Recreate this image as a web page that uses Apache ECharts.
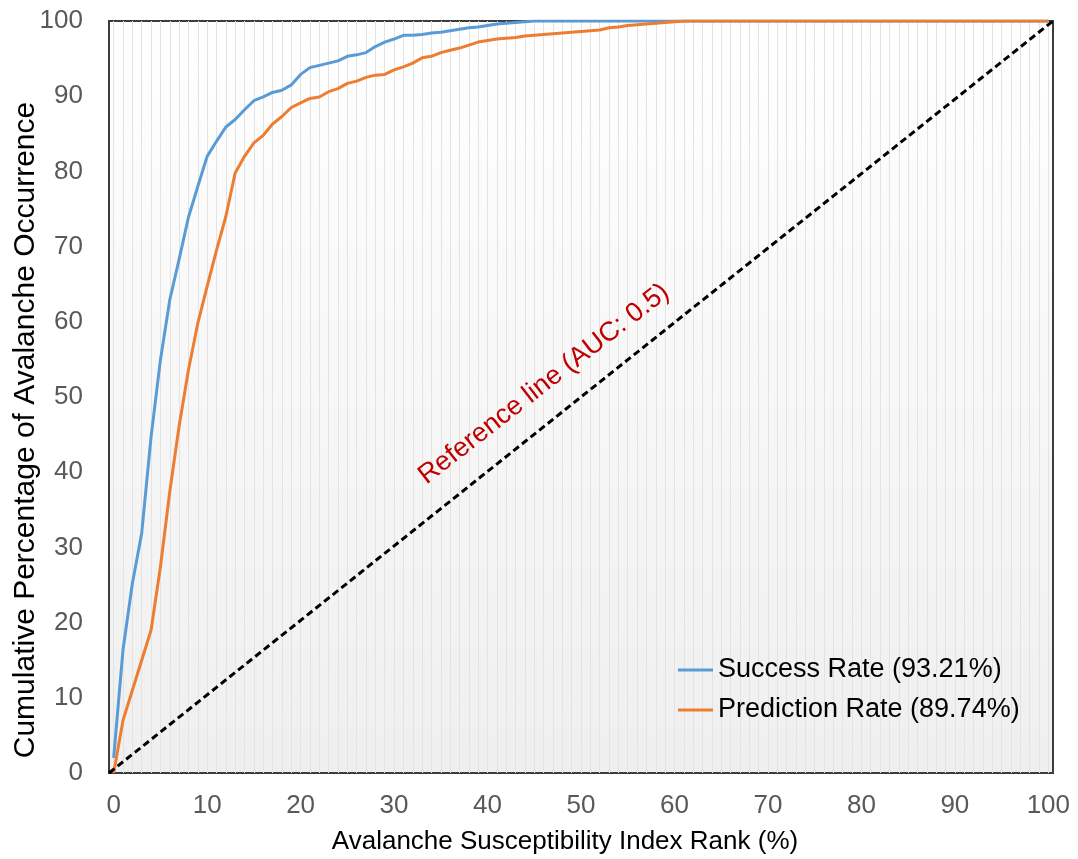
<!DOCTYPE html>
<html>
<head>
<meta charset="utf-8">
<script src="https://cdn.jsdelivr.net/npm/echarts@6/dist/echarts.min.js"></script>
<style>
  html, body { margin: 0; padding: 0; background: #fff; }
  #chart { width: 1078px; height: 859px; }
</style>
</head>
<body>
<div id="chart"></div>
<script>
// susceptibility index rank, 0..100 %
const rank = Array.from({ length: 101 }, (_, i) => i);
const xTickLabels = [0, 10, 20, 30, 40, 50, 60, 70, 80, 90, 100];

const successRate = [
  2, 16.4, 25.2, 31.9, 44.7, 54.9, 62.9, 68.3, 73.9, 78,
  82, 84, 85.9, 86.9, 88.2, 89.4, 89.9, 90.5, 90.8, 91.5,
  92.9, 93.8, 94.1, 94.4, 94.7, 95.3, 95.5, 95.8, 96.6, 97.2,
  97.6, 98.1, 98.1, 98.2, 98.4, 98.5, 98.7, 98.9, 99.1, 99.2,
  99.4, 99.6, 99.7, 99.8, 99.9, 100, 100, 100, 100, 100,
  100, 100, 100, 100, 100, 100, 100, 100, 100, 100,
  100, 100, 100, 100, 100, 100, 100, 100, 100, 100,
  100, 100, 100, 100, 100, 100, 100, 100, 100, 100,
  100, 100, 100, 100, 100, 100, 100, 100, 100, 100,
  100, 100, 100, 100, 100, 100, 100, 100, 100, 100,
  100
];

const predictionRate = [
  0, 7, 11, 15, 19, 27.4, 37.4, 46.1, 53.6, 59.8,
  64.7, 69.5, 74, 79.8, 82, 83.8, 84.8, 86.3, 87.3, 88.5,
  89.1, 89.7, 89.9, 90.6, 91, 91.7, 92, 92.5, 92.8, 92.9,
  93.5, 93.9, 94.4, 95.1, 95.3, 95.8, 96.1, 96.4, 96.8, 97.2,
  97.4, 97.6, 97.7, 97.8, 98, 98.1, 98.2, 98.3, 98.4, 98.5,
  98.6, 98.7, 98.8, 99.1, 99.2, 99.4, 99.5, 99.6, 99.7, 99.8,
  99.9, 100, 100, 100, 100, 100, 100, 100, 100, 100,
  100, 100, 100, 100, 100, 100, 100, 100, 100, 100,
  100, 100, 100, 100, 100, 100, 100, 100, 100, 100,
  100, 100, 100, 100, 100, 100, 100, 100, 100, 100,
  100
];

const referenceX = [0, 100];
const referenceY = [0, 100];

const fontFamily = '"Liberation Sans", Arial, sans-serif';
const chart = echarts.init(document.getElementById('chart'), null, { renderer: 'canvas' });

chart.setOption({
  animation: false,
  backgroundColor: '#fff',
  textStyle: { fontFamily },
  grid: {
    left: 109,
    right: 25,
    top: 21,
    bottom: 86,
    outerBoundsMode: 'none',
    containLabel: false,
    show: true,
    borderColor: '#3c3c3c',
    borderWidth: 2,
    backgroundColor: new echarts.graphic.LinearGradient(0, 0, 0, 1, [
      { offset: 0, color: '#ffffff' },
      { offset: 1, color: '#efefef' }
    ])
  },
  legend: {
    orient: 'vertical',
    left: 678,
    top: 656,
    padding: 0,
    icon: 'rect',
    itemWidth: 35,
    itemHeight: 3,
    itemGap: 12,
    textStyle: { color: '#000', fontSize: 27, fontFamily, lineHeight: 28 },
    data: ['Success Rate (93.21%)', 'Prediction Rate (89.74%)']
  },
  xAxis: [
    {
      type: 'value',
      min: -0.5,
      max: 100.5,
      name: 'Avalanche Susceptibility Index Rank (%)',
      nameLocation: 'middle',
      nameGap: 56,
      nameTextStyle: { color: '#000', fontSize: 26, fontFamily, padding: [0, 32, 0, 0] },
      axisLine: { show: false },
      axisTick: { show: false, customValues: rank },
      axisLabel: {
        customValues: xTickLabels,
        color: '#595959',
        fontSize: 26,
        margin: 20,
        fontFamily
      },
      splitLine: { show: true, lineStyle: { color: '#e3e3e3', width: 1 } }
    },
    {
      type: 'value',
      min: 0,
      max: 100,
      show: false
    }
  ],
  yAxis: {
    type: 'value',
    min: 0,
    max: 100,
    interval: 10,
    name: 'Cumulative Percentage of Avalanche Occurrence',
    nameLocation: 'middle',
    nameGap: 68,
    nameMoveOverlap: false,
    nameTextStyle: { color: '#000', fontSize: 30, fontFamily, padding: [0, 66, 0, 0] },
    axisLine: { show: false },
    axisTick: { show: false },
    axisLabel: { color: '#595959', fontSize: 26, margin: 26, fontFamily },
    splitLine: { show: false }
  },
  graphic: [
    {
      type: 'text',
      x: 544,
      y: 384,
      rotation: 0.66,
      z: 100,
      style: {
        text: 'Reference line (AUC: 0.5)',
        fill: '#c00000',
        fontSize: 27,
        fontFamily,
        textAlign: 'center',
        textVerticalAlign: 'middle'
      }
    }
  ],
  series: [
    {
      name: 'Success Rate (93.21%)',
      type: 'line',
      xAxisIndex: 0,
      symbol: 'none',
      data: successRate.map((v, i) => [rank[i], v]),
      lineStyle: { color: '#5b9bd5', width: 3 },
      itemStyle: { color: '#5b9bd5' }
    },
    {
      name: 'Prediction Rate (89.74%)',
      type: 'line',
      xAxisIndex: 0,
      symbol: 'none',
      data: predictionRate.map((v, i) => [rank[i], v]),
      lineStyle: { color: '#ed7d31', width: 3 },
      itemStyle: { color: '#ed7d31' }
    },
    {
      name: 'Reference line',
      type: 'line',
      xAxisIndex: 1,
      symbol: 'none',
      silent: true,
      data: referenceX.map((x, i) => [x, referenceY[i]]),
      lineStyle: { color: '#000', width: 3, type: [7, 4] }
    }
  ]
});
</script>
</body>
</html>
